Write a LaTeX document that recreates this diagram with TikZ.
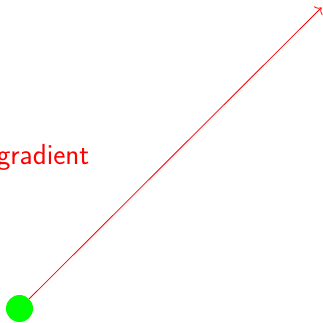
\documentclass[tikz,border=0pt]{standalone}
\usetikzlibrary{arrows.meta}
\begin{document}
\begin{tikzpicture}[x=1pt,y=1pt,
  dot/.style={circle,fill=green,inner sep=0pt,minimum size=27pt},
  lbl/.style={text=red,font=\sffamily\fontsize{29}{34}\selectfont,inner sep=0pt}]
\useasboundingbox (0,0) rectangle (323,322);
\node[dot] (a) at (19.5,13.5) {};
\coordinate (tip) at (321.5,314.5);
\draw[red,-{To[length=5pt,width=12pt]},line width=0.8pt] (a) -- (tip);
\node[lbl,anchor=base east] (g) at (89.5,158) {gradient};
\end{tikzpicture}
\end{document}
